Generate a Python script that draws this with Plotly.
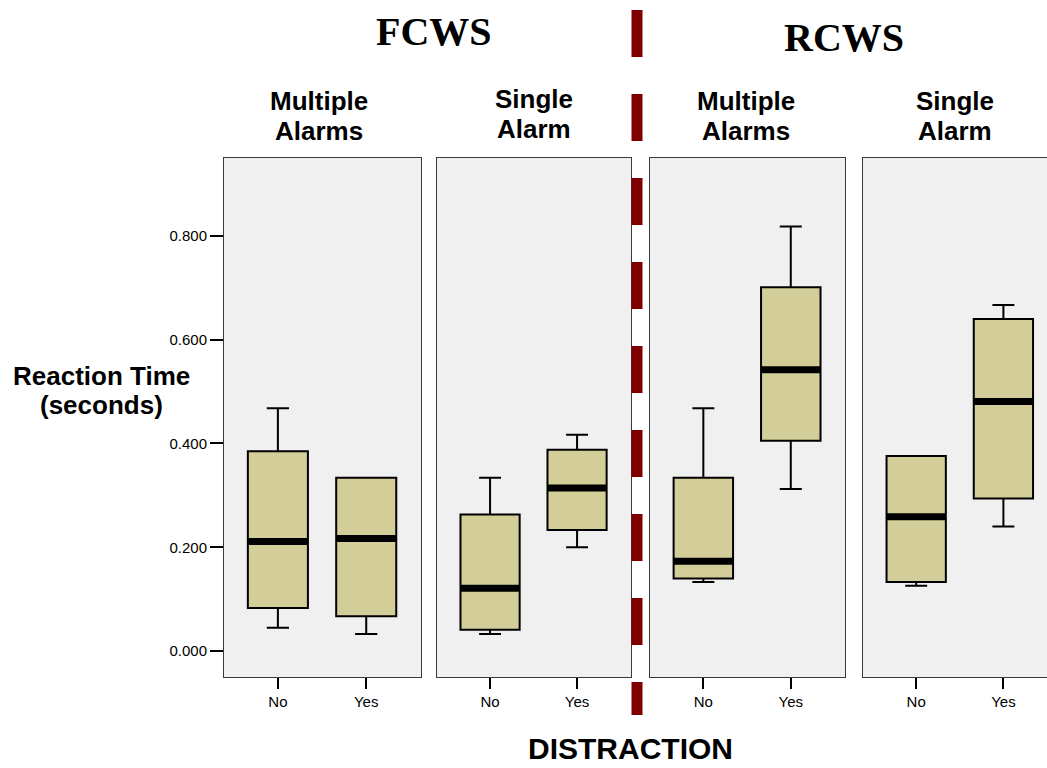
import plotly.graph_objects as go

W, H = 1047, 768

categories = ["No", "Yes"]
panel_names = ["FCWS Multiple Alarms", "FCWS Single Alarm", "RCWS Multiple Alarms", "RCWS Single Alarm"]
panel_title_lines = [["Multiple", "Alarms"], ["Single", "Alarm"], ["Multiple", "Alarms"], ["Single", "Alarm"]]
group_titles = ["FCWS", "RCWS"]
y_title_lines = ["Reaction Time", "(seconds)"]
x_title = "DISTRACTION"
y_ticks = [0.0, 0.2, 0.4, 0.6, 0.8]
y_ticklabels = ["0.000", "0.200", "0.400", "0.600", "0.800"]

# five-number summaries per panel: [No, Yes]
lower_fence = [[0.045, 0.033], [0.033, 0.200], [0.133, 0.312], [0.126, 0.240]]
q1_vals     = [[0.083, 0.067], [0.041, 0.233], [0.140, 0.405], [0.133, 0.294]]
median_vals = [[0.211, 0.217], [0.121, 0.314], [0.173, 0.542], [0.259, 0.481]]
q3_vals     = [[0.385, 0.334], [0.263, 0.388], [0.334, 0.701], [0.376, 0.640]]
upper_fence = [[0.468, 0.334], [0.334, 0.417], [0.468, 0.818], [0.376, 0.667]]

BOX_FILL = "#d3ce99"
PANEL_BG = "#f0f0f0"
FRAME = "#3a3a3a"
SANS = "Liberation Sans, Arial, sans-serif"
SERIF = "Liberation Serif, Times New Roman, serif"

def px_x(p):
    return p / W

def px_y(p):
    return 1 - p / H

# panel pixel extents
panel_px = [(224, 421), (437, 631), (650, 845), (863, 1047)]
x_ranges = [[-0.61, 1.62], [-0.61, 1.62], [-0.61, 1.62], [-0.61, 1.50]]
y_dom = [px_y(677), px_y(158)]
y_range = [-0.05, 0.95]

fig = go.Figure()

for i in range(4):
    xa = "x" if i == 0 else f"x{i+1}"
    ya = "y" if i == 0 else f"y{i+1}"
    fig.add_trace(go.Box(
        x=categories, q1=q1_vals[i], median=median_vals[i], q3=q3_vals[i],
        lowerfence=lower_fence[i], upperfence=upper_fence[i],
        fillcolor=BOX_FILL, line=dict(color="black", width=2),
        width=0.68, whiskerwidth=0.37, boxpoints=False,
        xaxis=xa, yaxis=ya, name=panel_names[i], hoverinfo="skip",
    ))
    # thick median band
    fig.add_trace(go.Box(
        x=categories, q1=median_vals[i], median=median_vals[i], q3=median_vals[i],
        lowerfence=median_vals[i], upperfence=median_vals[i],
        fillcolor="rgba(0,0,0,0)", line=dict(color="black", width=7),
        width=0.68, whiskerwidth=0, boxpoints=False,
        xaxis=xa, yaxis=ya, name=panel_names[i] + " median", hoverinfo="skip",
    ))

layout = dict(
    width=W, height=H,
    margin=dict(l=0, r=0, t=0, b=0),
    paper_bgcolor="white", plot_bgcolor=PANEL_BG,
    showlegend=False, boxmode="overlay", hovermode=False,
)

for i in range(4):
    xk = "xaxis" if i == 0 else f"xaxis{i+1}"
    yk = "yaxis" if i == 0 else f"yaxis{i+1}"
    ya = "y" if i == 0 else f"y{i+1}"
    xa = "x" if i == 0 else f"x{i+1}"
    x0, x1 = panel_px[i]
    layout[xk] = dict(
        domain=[px_x(x0), min(px_x(x1), 1.0)], anchor=ya,
        type="category", categoryorder="array", categoryarray=categories,
        range=x_ranges[i], showgrid=False, zeroline=False,
        showline=True, mirror=True, linecolor=FRAME, linewidth=1,
        ticks="outside", ticklen=11, tickwidth=2, tickcolor="black",
        tickfont=dict(family=SANS, size=15, color="black"),
    )
    layout[yk] = dict(
        domain=y_dom, anchor=xa, range=y_range,
        showgrid=False, zeroline=False,
        showline=True, mirror=True, linecolor=FRAME, linewidth=1,
        tickvals=y_ticks, ticktext=y_ticklabels,
        ticks="outside" if i == 0 else "", ticklen=13, tickwidth=2, tickcolor="black",
        showticklabels=(i == 0),
        tickfont=dict(family=SANS, size=15, color="black"),
    )

fig.update_layout(**layout)

annotations = []

def add_text(txt, cx, cy, family, size):
    annotations.append(dict(text=f"<b>{txt}</b>", x=px_x(cx), y=px_y(cy), xref="paper", yref="paper",
                            xanchor="center", yanchor="middle", showarrow=False,
                            font=dict(family=family, size=size, color="black")))

# group titles
for txt, cx, cy in zip(group_titles, [434, 844], [32, 38]):
    add_text(txt, cx, cy, SERIF, 40)
# panel titles (two lines each)
for lines, cx, cy in zip(panel_title_lines, [319, 534, 746, 955], [101, 99, 101, 101]):
    add_text(lines[0], cx, cy, SANS, 26)
    add_text(lines[1], cx, cy + 30, SANS, 26)
# axis titles
add_text(y_title_lines[0], 101, 376, SANS, 26)
add_text(y_title_lines[1], 101, 405, SANS, 26)
add_text(x_title, 630, 748, SANS, 30)
fig.update_layout(annotations=annotations)

# dashed separator between FCWS and RCWS
fig.add_shape(type="line", xref="paper", yref="paper",
              x0=px_x(637), x1=px_x(637), y0=px_y(10), y1=px_y(715),
              line=dict(color="#800000", width=11, dash="47px,37px"), layer="above")

fig.write_html("out.html", config={"displayModeBar": False},
               post_script="document.body.style.margin='0';document.body.style.overflow='hidden';")
